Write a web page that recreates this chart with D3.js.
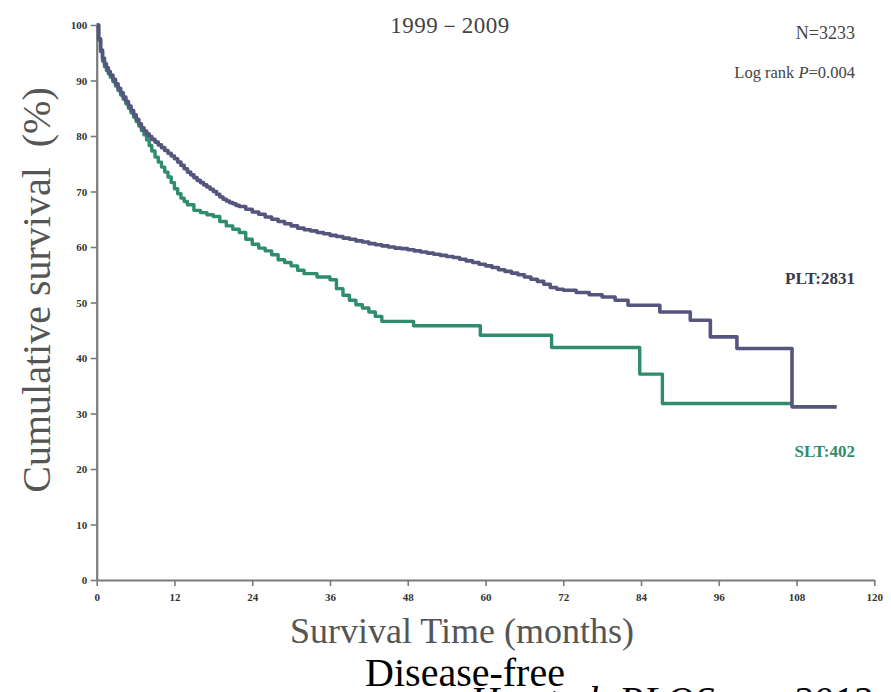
<!DOCTYPE html>
<html><head><meta charset="utf-8">
<script src="https://cdn.jsdelivr.net/npm/d3@7/dist/d3.min.js"></script>
<style>body{margin:0;background:#fff}svg{display:block}</style>
</head><body>
<script>
// ---- data ----
const xTicks = [0,12,24,36,48,60,72,84,96,108,120];
const yTicks = [0,10,20,30,40,50,60,70,80,90,100];
const pltTime = [0,0.3,0.6,0.9,1.2,1.5,1.8,2.1,2.5,2.9,3.3,3.7,4.1,4.5,4.9,5.3,5.7,6.1,6.5,6.9,7.3,7.7,8.1,8.5,9,9.5,10,10.5,11,11.5,12,12.5,13,13.5,14,14.5,15,15.5,16,16.5,17,17.5,18,18.5,19,19.5,20,20.5,21,21.5,22,23,24,25,26,27,28,29,30,31,32,33,34,35,36,37,38,39,40,41,42,43,44,45,46,47,48,49,50,51,52,53,54,55,56,57,58,59,60,61,62,63,64,65,66,67,68,69,70,71,72,74,76,78,80,82,86.9,91.6,94.7,98.8,107.3,114.2];
const pltSurv = [100,97.5,95.5,94,93,92.3,91.6,91,90.2,89.4,88.6,87.8,87,86.2,85.4,84.6,83.8,83,82.2,81.5,80.9,80.4,79.9,79.4,78.9,78.4,77.9,77.4,76.9,76.4,75.9,75.3,74.7,74.1,73.5,73,72.5,72,71.6,71.2,70.8,70.4,70,69.5,69,68.6,68.3,68,67.8,67.5,67.3,66.8,66.3,65.9,65.4,65,64.6,64.2,63.8,63.4,63.1,62.9,62.6,62.4,62.1,61.9,61.6,61.4,61.1,60.9,60.6,60.4,60.2,60,59.8,59.7,59.5,59.3,59.1,58.9,58.7,58.5,58.3,58.1,57.8,57.5,57.2,56.9,56.6,56.3,55.9,55.6,55.3,55,54.6,54.2,53.8,53.3,52.7,52.4,52.2,51.8,51.4,51.0,50.4,49.5,48.3,46.8,43.8,41.7,31.2,31.2];
const sltTime = [0,0.3,0.6,0.9,1.2,1.5,1.8,2.1,2.5,2.9,3.3,3.7,4.1,4.5,4.9,5.3,5.7,6.1,6.5,6.9,7.3,7.7,8.1,8.5,9,9.5,10,10.5,11,11.5,12,12.5,13,13.5,14,15,16,17,18,19,20,21,22,23,24,25,26,27,28,29,30,31,32,34,36,37,38,39,40,41,42,43,44,48.9,59.2,70.2,83.8,87.3,107.3];
const sltSurv = [100,97.3,95.2,93.5,92.5,91.8,91.2,90.6,89.8,89,88.2,87.4,86.6,85.8,85,84.2,83.4,82.6,81.8,81,80.2,79.3,78.3,77.3,76.2,75.3,74.4,73.5,72.6,71.6,70.5,69.6,68.8,68.2,67.6,66.6,66.2,65.8,65.5,64.6,63.8,63.2,62.6,61.4,60.5,59.8,59.3,58.6,57.7,57.2,56.6,55.8,55.2,54.6,54.1,52.5,51.3,50.4,49.6,49.0,48.3,47.5,46.6,45.8,44.1,41.9,37.1,31.8,31.8];
const seriesNames = ["PLT:2831","SLT:402"];
const seriesColors = ["#55557d","#2f8c6c"];

const W=891,H=692;
const svg=d3.select("body").append("svg").attr("width",W).attr("height",H);
const x=d3.scaleLinear().domain([0,120]).range([96.7,874.3]);
const y=d3.scaleLinear().domain([0,100]).range([580,25]);
const serif="'Liberation Serif','Times New Roman',serif";

// axes
const gx=svg.append("g").attr("transform","translate(0,580)")
  .call(d3.axisBottom(x).tickValues(xTicks).tickSize(6).tickSizeOuter(0));
const gy=svg.append("g").attr("transform","translate(96.7,0)")
  .call(d3.axisLeft(y).tickValues(yTicks).tickSize(6).tickSizeOuter(0));
[gx,gy].forEach(g=>{
  g.select(".domain").attr("stroke","#7a7a7a").attr("stroke-width",2.2);
  g.selectAll(".tick line").attr("stroke","#7a7a7a").attr("stroke-width",1.6);
  g.selectAll(".tick text").attr("font-family",serif).attr("font-weight","bold")
   .attr("font-size",11).attr("fill","#333");
});
gx.selectAll(".tick text").attr("dy","1.05em");
gy.selectAll(".tick text").attr("dx","-0.05em");

// curves
const line=d3.line().x(d=>x(d[0])).y(d=>y(d[1])).curve(d3.curveStepAfter);
const pltData=pltTime.map((t,i)=>[t,pltSurv[i]]);
const sltData=sltTime.map((t,i)=>[t,sltSurv[i]]);
svg.append("path").datum(sltData).attr("d",line).attr("fill","none")
  .attr("stroke",seriesColors[1]).attr("stroke-width",3.4).attr("stroke-linejoin","round");
svg.append("path").datum(pltData).attr("d",line).attr("fill","none")
  .attr("stroke",seriesColors[0]).attr("stroke-width",3.6).attr("stroke-linejoin","round");

// texts
svg.append("text").attr("x",450).attr("y",33).attr("text-anchor","middle")
  .attr("font-family",serif).attr("font-size",23).attr("letter-spacing",0.5).attr("fill","#444").text("1999－2009");
svg.append("text").attr("x",855).attr("y",39).attr("text-anchor","end")
  .attr("font-family",serif).attr("font-size",18).attr("fill","#444").text("N=3233");
const lr=svg.append("text").attr("x",855).attr("y",78).attr("text-anchor","end")
  .attr("font-family",serif).attr("font-size",16.5).attr("fill","#444");
lr.append("tspan").text("Log rank ");
lr.append("tspan").attr("font-style","italic").text("P");
lr.append("tspan").text("=0.004");
svg.append("text").attr("x",855).attr("y",284).attr("text-anchor","end")
  .attr("font-family",serif).attr("font-size",17).attr("font-weight","bold")
  .attr("fill","#3a3a4a").text(seriesNames[0]);
svg.append("text").attr("x",855).attr("y",457).attr("text-anchor","end")
  .attr("font-family",serif).attr("font-size",17).attr("font-weight","bold")
  .attr("fill",seriesColors[1]).text(seriesNames[1]);

svg.append("text").attr("transform","translate(50,290) rotate(-90)").attr("text-anchor","middle")
  .attr("font-family",serif).attr("font-size",40).attr("fill","#555")
  .text("Cumulative survival\u00a0\u00a0(%)");
svg.append("text").attr("x",462).attr("y",643).attr("text-anchor","middle")
  .attr("font-family",serif).attr("font-size",36).attr("fill","#555").text("Survival Time (months)");
svg.append("text").attr("x",465).attr("y",686).attr("text-anchor","middle")
  .attr("font-family",serif).attr("font-size",40).attr("fill","#000").text("Disease-free");
svg.append("text").attr("x",470).attr("y",714)
  .attr("font-family",serif).attr("font-size",40).attr("font-style","italic").attr("fill","#000")
  .text("Hu et al. PLOS one 2013");
</script>
</body></html>
